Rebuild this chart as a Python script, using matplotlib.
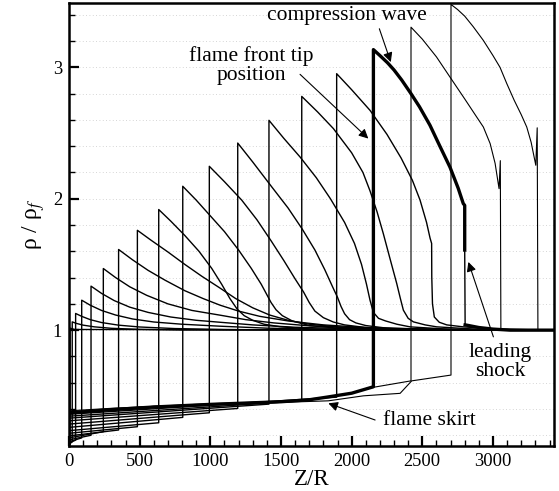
import numpy as np
import matplotlib.pyplot as plt
from matplotlib.ticker import MultipleLocator

plt.rcParams['font.family'] = ['Liberation Serif', 'DejaVu Serif']
plt.rcParams['mathtext.fontset'] = 'stix'

# -------------------------------------------------
# density profiles rho/rho_f along Z/R, one per time level
# (burnt side from Z=0 up to the flame front, then the jump,
#  then the compressed gas and the leading shock)
# -------------------------------------------------

p00_x = [0, 8, 8, 40, 3500]
p00_y = [0.125, 0.13, 1.015, 1.005, 1.0]

p01_x = [0, 23, 23, 50, 100, 180, 300, 500, 800, 3500]
p01_y = [0.13, 0.15, 1.063, 1.052, 1.038, 1.025, 1.014, 1.006, 1.001, 1.0]

p02_x = [0, 47, 47, 90, 150, 230, 350, 500, 750, 1100, 1600, 3500]
p02_y = [0.14, 0.163, 1.127, 1.105, 1.08, 1.058, 1.038, 1.024, 1.012, 1.005, 1.001, 1.0]

p03_x = [0, 90, 90, 150, 230, 330, 450, 600, 800, 1069, 1400, 1900, 3500]
p03_y = [0.15, 0.18, 1.228, 1.19, 1.15, 1.115, 1.085, 1.062, 1.045, 1.03, 1.015, 1.004, 1.0]

p04_x = [0, 156, 156, 230, 320, 430, 560, 720, 900, 1069, 1300, 1600, 2100, 3500]
p04_y = [0.165, 0.20, 1.335, 1.28, 1.225, 1.175, 1.135, 1.10, 1.075, 1.06, 1.04, 1.022, 1.008, 1.0]

p05_x = [0, 243, 243, 330, 430, 550, 700, 870, 1069, 1250, 1450, 1700, 2000, 2500, 3500]
p05_y = [0.18, 0.227, 1.469, 1.40, 1.33, 1.265, 1.20, 1.15, 1.114, 1.08, 1.055, 1.033, 1.018, 1.006, 1.0]

p06_x = [0, 351, 351, 450, 560, 680, 820, 950, 1069, 1200, 1350, 1550, 1800, 2100, 2600, 3500]
p06_y = [0.195, 0.24, 1.614, 1.535, 1.455, 1.38, 1.30, 1.24, 1.19, 1.145, 1.105, 1.07, 1.04, 1.02, 1.006, 1.0]

p07_x = [0, 484, 484, 580, 700, 820, 940, 1069, 1180, 1300, 1420, 1550, 1700, 1900, 2200, 2700, 3500]
p07_y = [0.215, 0.265, 1.76, 1.685, 1.595, 1.50, 1.41, 1.32, 1.24, 1.17, 1.115, 1.075, 1.045, 1.025, 1.01, 1.003, 1.0]

p08_x = [0, 635, 635, 720, 820, 920, 1010, 1080, 1139, 1190, 1240, 1300, 1380, 1500, 1700, 2100, 3500]
p08_y = [0.235, 0.295, 1.918, 1.83, 1.72, 1.60, 1.47, 1.35, 1.24, 1.16, 1.11, 1.075, 1.045, 1.025, 1.01, 1.003, 1.0]

p09_x = [0, 805, 805, 900, 1000, 1100, 1200, 1290, 1360, 1400, 1430, 1465, 1510, 1580, 1700, 1900, 2300, 3500]
p09_y = [0.26, 0.336, 2.095, 1.99, 1.87, 1.75, 1.61, 1.47, 1.35, 1.27, 1.21, 1.155, 1.11, 1.07, 1.035, 1.015, 1.004, 1.0]

p10_x = [0, 993, 993, 1100, 1222, 1330, 1430, 1520, 1600, 1660, 1700, 1740, 1800, 1870, 1950, 2100, 2400, 3500]
p10_y = [0.285, 0.371, 2.247, 2.13, 1.99, 1.84, 1.68, 1.53, 1.39, 1.29, 1.21, 1.145, 1.095, 1.062, 1.04, 1.02, 1.006, 1.0]

p11_x = [0, 1194, 1194, 1300, 1435, 1550, 1650, 1740, 1810, 1865, 1900, 1925, 1950, 1985, 2030, 2100, 2250, 2600, 3500]
p11_y = [0.31, 0.404, 2.424, 2.28, 2.09, 1.93, 1.77, 1.61, 1.46, 1.33, 1.25, 1.18, 1.125, 1.08, 1.055, 1.035, 1.015, 1.004, 1.0]

p12_x = [0, 1415, 1415, 1520, 1635, 1750, 1850, 1950, 2020, 2070, 2105, 2130, 2154, 2190, 2240, 2320, 2413, 2700, 3500]
p12_y = [0.33, 0.437, 2.597, 2.46, 2.318, 2.16, 2.0, 1.82, 1.66, 1.50, 1.35, 1.228, 1.135, 1.09, 1.07, 1.045, 1.025, 1.006, 1.0]

p13_x = [0, 1647, 1647, 1760, 1871, 2000, 2080, 2130, 2180, 2224, 2270, 2319, 2345, 2366, 2400, 2437, 2520, 2602, 2900, 3500]
p13_y = [0.345, 0.462, 2.779, 2.66, 2.534, 2.35, 2.20, 2.06, 1.90, 1.735, 1.55, 1.355, 1.24, 1.152, 1.09, 1.063, 1.04, 1.025, 1.006, 1.0]

p14_x = [0, 1894, 1894, 2000, 2130, 2250, 2350, 2430, 2484, 2530, 2555, 2566, 2567, 2572, 2585, 2620, 2673, 2790, 3000, 3300, 3500]
p14_y = [0.36, 0.49, 2.952, 2.83, 2.673, 2.49, 2.31, 2.14, 1.99, 1.82, 1.70, 1.66, 1.405, 1.20, 1.10, 1.06, 1.04, 1.025, 1.01, 1.002, 1.0]

# thick profile (compression wave); only the upper part of its shock is thick
p15_x = [0, 300, 600, 1000, 1500, 1700, 1824, 2000, 2154, 2154, 2200, 2254, 2300, 2354, 2420, 2480, 2554,
         2620, 2696, 2754, 2790, 2800, 2800, 2803, 2814, 2900, 3000, 3121, 3500]
p15_y = [0.37, 0.395, 0.415, 0.435, 0.455, 0.47, 0.49, 0.52, 0.569, 3.135, 3.09, 3.035, 2.98, 2.904, 2.80, 2.70, 2.56,
         2.41, 2.24, 2.08, 1.963, 1.95, 1.61, 1.04, 1.038, 1.02, 1.008, 1.0, 1.0]
p15_thin = 22   # index where the thin lower part of the shock starts

p16_x = [0, 600, 1000, 1500, 1700, 1824, 2000, 2154, 2420, 2420, 2500, 2600, 2696, 2800, 2880, 2932, 2980,
         3015, 3043, 3052, 3056, 3500]
p16_y = [0.378, 0.42, 0.44, 0.458, 0.472, 0.49, 0.52, 0.565, 0.614, 3.306, 3.215, 3.08, 2.926, 2.76, 2.63, 2.546, 2.42,
         2.27, 2.077, 2.29, 1.0, 1.0]

p17_x = [0, 300, 600, 1000, 1500, 1835, 2083, 2343, 2425, 2703, 2703, 2750, 2800, 2860, 2932, 3000, 3050,
         3098, 3150, 3200, 3239, 3270, 3303, 3313, 3318, 3500]
p17_y = [0.386, 0.405, 0.42, 0.435, 0.45, 0.462, 0.50, 0.519, 0.614, 0.658, 3.479, 3.44, 3.39, 3.31, 3.205, 3.09, 3.0,
         2.876, 2.75, 2.64, 2.546, 2.43, 2.255, 2.54, 1.0, 1.0]

thin_profiles = [(p00_x, p00_y), (p01_x, p01_y), (p02_x, p02_y), (p03_x, p03_y),
                 (p04_x, p04_y), (p05_x, p05_y), (p06_x, p06_y), (p07_x, p07_y),
                 (p08_x, p08_y), (p09_x, p09_y), (p10_x, p10_y), (p11_x, p11_y),
                 (p12_x, p12_y), (p13_x, p13_y), (p14_x, p14_y)]
late_profiles = [(p16_x, p16_y), (p17_x, p17_y)]

x_ticks = [0, 500, 1000, 1500, 2000, 2500, 3000]
y_ticks = [1, 2, 3]

# -------------------------------------------------
# figure
# -------------------------------------------------

fig = plt.figure(figsize=(5.59, 4.91), dpi=100)
ax = fig.add_axes([0.1234, 0.0916, 0.8677, 0.9023])

for x, y in thin_profiles:
    ax.plot(x, y, color='black', lw=1.0, zorder=3)

for x, y in late_profiles:
    ax.plot(x, y, color='black', lw=0.8, zorder=3)

# compression wave profile
k = p15_thin
ax.plot(p15_x[:k + 1], p15_y[:k + 1], color='black', lw=2.4, zorder=4)
ax.plot(p15_x[k:k + 2], p15_y[k:k + 2], color='black', lw=1.0, zorder=4)
ax.plot(p15_x[k + 1:], p15_y[k + 1:], color='black', lw=2.4, zorder=4)

ax.set_xlim(0, 3432)
ax.set_ylim(0.118, 3.49)

ax.set_xticks(x_ticks)
ax.set_yticks(y_ticks)
ax.xaxis.set_minor_locator(MultipleLocator(100))
ax.yaxis.set_minor_locator(MultipleLocator(0.2))

ax.yaxis.grid(True, which='both', ls=(0, (1, 3)), color='#c8c8c8', lw=0.6)
ax.set_axisbelow(True)

ax.tick_params(which='both', direction='in', top=False, right=False,
               labelsize=13.3, pad=5)
ax.tick_params(which='major', length=7, width=1.6)
ax.tick_params(which='minor', length=4.5, width=1.0)

for s in ax.spines.values():
    s.set_linewidth(1.8)

ax.set_xlabel('Z/R', fontsize=16.5, labelpad=-1)
ax.set_ylabel('ρ / ρ$_{f}$', fontsize=17, labelpad=4)

# -------------------------------------------------
# annotations
# -------------------------------------------------

arrow = dict(arrowstyle='-|>', color='black', lw=0.8, mutation_scale=14,
             shrinkA=0, shrinkB=0)

ax.text(1964, 3.395, 'compression wave', fontsize=15.5, ha='center', va='center')
ax.annotate('', xy=(2277, 3.04), xytext=(2196, 3.294), arrowprops=arrow)

ax.text(1288, 3.015, 'flame front tip\nposition', fontsize=15.5,
        ha='center', va='center', linespacing=1.0)
ax.annotate('', xy=(2118, 2.458), xytext=(1635, 2.947), arrowprops=arrow)

ax.text(3050, 0.76, 'leading\nshock', fontsize=15.5,
        ha='center', va='center', linespacing=1.0)
ax.annotate('', xy=(2826, 1.519), xytext=(3003, 0.949), arrowprops=arrow)

ax.text(2553, 0.31, 'flame skirt', fontsize=15.5, ha='center', va='center')
ax.annotate('', xy=(1835, 0.443), xytext=(2166, 0.316), arrowprops=arrow)

plt.savefig('out.png', dpi=100)
